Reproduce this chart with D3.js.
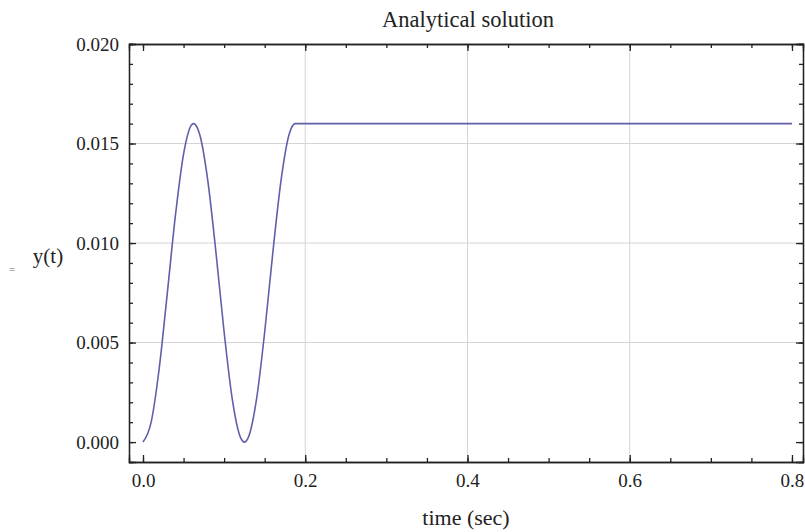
<!DOCTYPE html>
<html>
<head>
<meta charset="utf-8">
<script src="https://cdn.jsdelivr.net/npm/d3@7"></script>
<style>
  body { margin: 0; background: #fff; }
  text { font-family: "Liberation Serif", "DejaVu Serif", serif; fill: #222; }
</style>
</head>
<body>
<script>
// values
var times = [0, 0.01, 0.02, 0.03, 0.04, 0.05, 0.06, 0.0625, 0.07, 0.08, 0.09, 0.10, 0.11, 0.12, 0.125,
             0.13, 0.14, 0.15, 0.16, 0.17, 0.18, 0.1875, 0.3, 0.5, 0.8]
var yVals = [0, 0.00099, 0.00371, 0.0075, 0.0114, 0.01447, 0.01594, 0.016, 0.01544, 0.0131, 0.0095, 0.00553, 0.00217, 0.00025, 0,
             0.00025, 0.00217, 0.00553, 0.0095, 0.0131, 0.01544, 0.016, 0.016, 0.016, 0.016]
var xTicks = [0, 0.2, 0.4, 0.6, 0.8]
var yTicks = [0, 0.005, 0.010, 0.015, 0.020]
var xGrid = [0.2, 0.4, 0.6]
var yGrid = [0.005, 0.010, 0.015]

var width = 805,
    height = 532

var plotL = 129, plotR = 803, plotT = 44, plotB = 462

var x = d3.scaleLinear().domain([-0.01726, 0.8136]).range([plotL, plotR])
var y = d3.scaleLinear().domain([-0.001, 0.020]).range([plotB, plotT])

var svg = d3.select("body").append("svg")
    .attr("width", width)
    .attr("height", height)

// grid
svg.selectAll("line.gx").data(xGrid).enter().append("line")
    .attr("x1", function (d) { return x(d) }).attr("x2", function (d) { return x(d) })
    .attr("y1", plotT).attr("y2", plotB)
    .attr("stroke", "#d4d4d4").attr("stroke-width", 1)
svg.selectAll("line.gy").data(yGrid).enter().append("line")
    .attr("y1", function (d) { return y(d) }).attr("y2", function (d) { return y(d) })
    .attr("x1", plotL).attr("x2", plotR)
    .attr("stroke", "#d4d4d4").attr("stroke-width", 1)

// curve
var pts = times.map(function (t, i) { return [t, yVals[i]] })
var line = d3.line()
    .x(function (d) { return x(d[0]) })
    .y(function (d) { return y(d[1]) })
    .curve(d3.curveMonotoneX)
svg.append("path").datum(pts)
    .attr("d", line)
    .attr("fill", "none")
    .attr("stroke", "#6060aa")
    .attr("stroke-width", 1.6)

// frame with inward ticks
var xMinor = d3.range(0, 0.801, 0.05)
var yMinor = d3.range(0, 0.0201, 0.001)

svg.append("g").attr("transform", "translate(0," + plotB + ")")
    .call(d3.axisBottom(x).tickValues(xMinor).tickSize(-4).tickFormat(""))
svg.append("g").attr("transform", "translate(0," + plotB + ")")
    .call(d3.axisBottom(x).tickValues(xTicks).tickSize(-7).tickPadding(12).tickFormat(d3.format(".1f")))
svg.append("g").attr("transform", "translate(0," + plotT + ")")
    .call(d3.axisTop(x).tickValues(xMinor).tickSize(-4).tickFormat(""))
svg.append("g").attr("transform", "translate(0," + plotT + ")")
    .call(d3.axisTop(x).tickValues(xTicks).tickSize(-7).tickFormat(""))

svg.append("g").attr("transform", "translate(" + plotL + ",0)")
    .call(d3.axisLeft(y).tickValues(yMinor).tickSize(-4).tickFormat(""))
svg.append("g").attr("transform", "translate(" + plotL + ",0)")
    .call(d3.axisLeft(y).tickValues(yTicks).tickSize(-7).tickPadding(10).tickFormat(d3.format(".3f")))
svg.append("g").attr("transform", "translate(" + plotR + ",0)")
    .call(d3.axisRight(y).tickValues(yMinor).tickSize(-4).tickFormat(""))
svg.append("g").attr("transform", "translate(" + plotR + ",0)")
    .call(d3.axisRight(y).tickValues(yTicks).tickSize(-7).tickFormat(""))

svg.selectAll(".domain").attr("stroke", "#222").attr("stroke-width", 1.3)
svg.selectAll(".tick line").attr("stroke", "#222").attr("stroke-width", 1.3)
svg.selectAll(".tick text")
    .style("font-family", "'Liberation Serif', serif")
    .style("font-size", "19px")
    .attr("fill", "#222")

// labels
svg.append("text").attr("x", 468).attr("y", 27)
    .attr("text-anchor", "middle").style("font-size", "22.5px")
    .text("Analytical solution")
svg.append("text").attr("x", 466).attr("y", 525)
    .attr("text-anchor", "middle").style("font-size", "22px")
    .text("time (sec)")
svg.append("text").attr("x", 48).attr("y", 263)
    .attr("text-anchor", "middle").style("font-size", "21px")
    .text("y(t)")
svg.append("text").attr("x", 12).attr("y", 273)
    .attr("text-anchor", "middle").style("font-size", "11px")
    .style("fill", "#666")
    .text("=")
</script>
</body>
</html>
